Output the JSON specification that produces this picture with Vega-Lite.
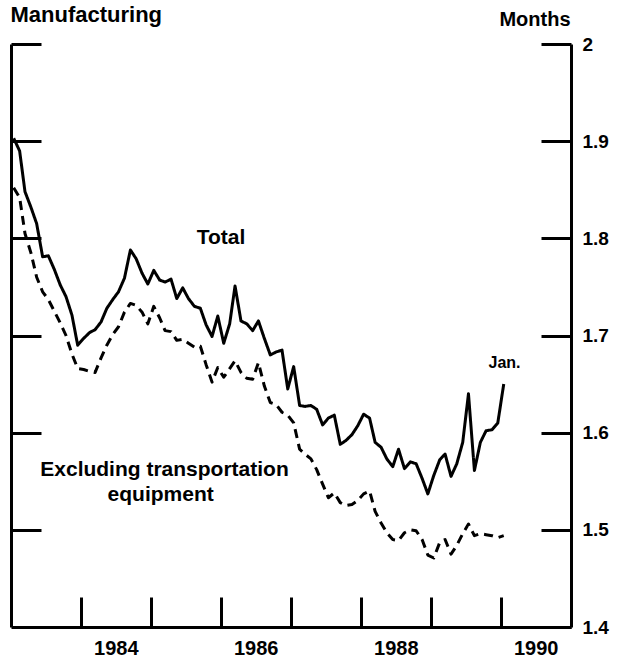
{
  "$schema": "https://vega.github.io/schema/vega-lite/v6.json",
  "width": 560,
  "height": 583,
  "autosize": {"type": "none"},
  "padding": {"left": 11, "top": 44, "right": 54, "bottom": 32},
  "background": "white",
  "config": {
    "view": {"stroke": null},
    "font": "Liberation Sans",
    "axis": {
      "grid": false,
      "domainColor": "#000",
      "domainWidth": 3,
      "tickColor": "#000",
      "tickWidth": 3,
      "labelColor": "#000",
      "labelFont": "Liberation Sans",
      "titleFont": "Liberation Sans",
      "titleColor": "#000"
    }
  },
  "datasets": {
    "lines": [
      {"date":"1983-01-15","series":"Total","value":1.903},
      {"date":"1983-02-15","series":"Total","value":1.89},
      {"date":"1983-03-15","series":"Total","value":1.848},
      {"date":"1983-04-15","series":"Total","value":1.832},
      {"date":"1983-05-15","series":"Total","value":1.815},
      {"date":"1983-06-15","series":"Total","value":1.781},
      {"date":"1983-07-15","series":"Total","value":1.782},
      {"date":"1983-08-15","series":"Total","value":1.768},
      {"date":"1983-09-15","series":"Total","value":1.752},
      {"date":"1983-10-15","series":"Total","value":1.74},
      {"date":"1983-11-15","series":"Total","value":1.721},
      {"date":"1983-12-15","series":"Total","value":1.69},
      {"date":"1984-01-15","series":"Total","value":1.697},
      {"date":"1984-02-15","series":"Total","value":1.703},
      {"date":"1984-03-15","series":"Total","value":1.706},
      {"date":"1984-04-15","series":"Total","value":1.714},
      {"date":"1984-05-15","series":"Total","value":1.728},
      {"date":"1984-06-15","series":"Total","value":1.737},
      {"date":"1984-07-15","series":"Total","value":1.745},
      {"date":"1984-08-15","series":"Total","value":1.759},
      {"date":"1984-09-15","series":"Total","value":1.788},
      {"date":"1984-10-15","series":"Total","value":1.779},
      {"date":"1984-11-15","series":"Total","value":1.764},
      {"date":"1984-12-15","series":"Total","value":1.753},
      {"date":"1985-01-15","series":"Total","value":1.767},
      {"date":"1985-02-15","series":"Total","value":1.757},
      {"date":"1985-03-15","series":"Total","value":1.755},
      {"date":"1985-04-15","series":"Total","value":1.758},
      {"date":"1985-05-15","series":"Total","value":1.738},
      {"date":"1985-06-15","series":"Total","value":1.749},
      {"date":"1985-07-15","series":"Total","value":1.738},
      {"date":"1985-08-15","series":"Total","value":1.73},
      {"date":"1985-09-15","series":"Total","value":1.728},
      {"date":"1985-10-15","series":"Total","value":1.711},
      {"date":"1985-11-15","series":"Total","value":1.699},
      {"date":"1985-12-15","series":"Total","value":1.72},
      {"date":"1986-01-15","series":"Total","value":1.692},
      {"date":"1986-02-15","series":"Total","value":1.712},
      {"date":"1986-03-15","series":"Total","value":1.751},
      {"date":"1986-04-15","series":"Total","value":1.715},
      {"date":"1986-05-15","series":"Total","value":1.712},
      {"date":"1986-06-15","series":"Total","value":1.705},
      {"date":"1986-07-15","series":"Total","value":1.715},
      {"date":"1986-08-15","series":"Total","value":1.697},
      {"date":"1986-09-15","series":"Total","value":1.68},
      {"date":"1986-10-15","series":"Total","value":1.683},
      {"date":"1986-11-15","series":"Total","value":1.685},
      {"date":"1986-12-15","series":"Total","value":1.645},
      {"date":"1987-01-15","series":"Total","value":1.668},
      {"date":"1987-02-15","series":"Total","value":1.628},
      {"date":"1987-03-15","series":"Total","value":1.627},
      {"date":"1987-04-15","series":"Total","value":1.628},
      {"date":"1987-05-15","series":"Total","value":1.624},
      {"date":"1987-06-15","series":"Total","value":1.608},
      {"date":"1987-07-15","series":"Total","value":1.615},
      {"date":"1987-08-15","series":"Total","value":1.618},
      {"date":"1987-09-15","series":"Total","value":1.588},
      {"date":"1987-10-15","series":"Total","value":1.592},
      {"date":"1987-11-15","series":"Total","value":1.598},
      {"date":"1987-12-15","series":"Total","value":1.607},
      {"date":"1988-01-15","series":"Total","value":1.619},
      {"date":"1988-02-15","series":"Total","value":1.615},
      {"date":"1988-03-15","series":"Total","value":1.59},
      {"date":"1988-04-15","series":"Total","value":1.585},
      {"date":"1988-05-15","series":"Total","value":1.573},
      {"date":"1988-06-15","series":"Total","value":1.565},
      {"date":"1988-07-15","series":"Total","value":1.583},
      {"date":"1988-08-15","series":"Total","value":1.563},
      {"date":"1988-09-15","series":"Total","value":1.57},
      {"date":"1988-10-15","series":"Total","value":1.568},
      {"date":"1988-11-15","series":"Total","value":1.553},
      {"date":"1988-12-15","series":"Total","value":1.537},
      {"date":"1989-01-15","series":"Total","value":1.556},
      {"date":"1989-02-15","series":"Total","value":1.572},
      {"date":"1989-03-15","series":"Total","value":1.578},
      {"date":"1989-04-15","series":"Total","value":1.555},
      {"date":"1989-05-15","series":"Total","value":1.568},
      {"date":"1989-06-15","series":"Total","value":1.59},
      {"date":"1989-07-15","series":"Total","value":1.64},
      {"date":"1989-08-15","series":"Total","value":1.561},
      {"date":"1989-09-15","series":"Total","value":1.59},
      {"date":"1989-10-15","series":"Total","value":1.602},
      {"date":"1989-11-15","series":"Total","value":1.603},
      {"date":"1989-12-15","series":"Total","value":1.61},
      {"date":"1990-01-15","series":"Total","value":1.65},
      {"date":"1983-01-15","series":"Excluding transportation equipment","value":1.852},
      {"date":"1983-02-15","series":"Excluding transportation equipment","value":1.842},
      {"date":"1983-03-15","series":"Excluding transportation equipment","value":1.805},
      {"date":"1983-04-15","series":"Excluding transportation equipment","value":1.785},
      {"date":"1983-05-15","series":"Excluding transportation equipment","value":1.76},
      {"date":"1983-06-15","series":"Excluding transportation equipment","value":1.745},
      {"date":"1983-07-15","series":"Excluding transportation equipment","value":1.737},
      {"date":"1983-08-15","series":"Excluding transportation equipment","value":1.725},
      {"date":"1983-09-15","series":"Excluding transportation equipment","value":1.713},
      {"date":"1983-10-15","series":"Excluding transportation equipment","value":1.7},
      {"date":"1983-11-15","series":"Excluding transportation equipment","value":1.681},
      {"date":"1983-12-15","series":"Excluding transportation equipment","value":1.666},
      {"date":"1984-01-15","series":"Excluding transportation equipment","value":1.665},
      {"date":"1984-02-15","series":"Excluding transportation equipment","value":1.663},
      {"date":"1984-03-15","series":"Excluding transportation equipment","value":1.662},
      {"date":"1984-04-15","series":"Excluding transportation equipment","value":1.677},
      {"date":"1984-05-15","series":"Excluding transportation equipment","value":1.69},
      {"date":"1984-06-15","series":"Excluding transportation equipment","value":1.701},
      {"date":"1984-07-15","series":"Excluding transportation equipment","value":1.709},
      {"date":"1984-08-15","series":"Excluding transportation equipment","value":1.724},
      {"date":"1984-09-15","series":"Excluding transportation equipment","value":1.733},
      {"date":"1984-10-15","series":"Excluding transportation equipment","value":1.731},
      {"date":"1984-11-15","series":"Excluding transportation equipment","value":1.724},
      {"date":"1984-12-15","series":"Excluding transportation equipment","value":1.712},
      {"date":"1985-01-15","series":"Excluding transportation equipment","value":1.73},
      {"date":"1985-02-15","series":"Excluding transportation equipment","value":1.718},
      {"date":"1985-03-15","series":"Excluding transportation equipment","value":1.705},
      {"date":"1985-04-15","series":"Excluding transportation equipment","value":1.704},
      {"date":"1985-05-15","series":"Excluding transportation equipment","value":1.695},
      {"date":"1985-06-15","series":"Excluding transportation equipment","value":1.696},
      {"date":"1985-07-15","series":"Excluding transportation equipment","value":1.692},
      {"date":"1985-08-15","series":"Excluding transportation equipment","value":1.688},
      {"date":"1985-09-15","series":"Excluding transportation equipment","value":1.689},
      {"date":"1985-10-15","series":"Excluding transportation equipment","value":1.67},
      {"date":"1985-11-15","series":"Excluding transportation equipment","value":1.652},
      {"date":"1985-12-15","series":"Excluding transportation equipment","value":1.667},
      {"date":"1986-01-15","series":"Excluding transportation equipment","value":1.657},
      {"date":"1986-02-15","series":"Excluding transportation equipment","value":1.666},
      {"date":"1986-03-15","series":"Excluding transportation equipment","value":1.674},
      {"date":"1986-04-15","series":"Excluding transportation equipment","value":1.662},
      {"date":"1986-05-15","series":"Excluding transportation equipment","value":1.656},
      {"date":"1986-06-15","series":"Excluding transportation equipment","value":1.655},
      {"date":"1986-07-15","series":"Excluding transportation equipment","value":1.672},
      {"date":"1986-08-15","series":"Excluding transportation equipment","value":1.648},
      {"date":"1986-09-15","series":"Excluding transportation equipment","value":1.631},
      {"date":"1986-10-15","series":"Excluding transportation equipment","value":1.629},
      {"date":"1986-11-15","series":"Excluding transportation equipment","value":1.621},
      {"date":"1986-12-15","series":"Excluding transportation equipment","value":1.618},
      {"date":"1987-01-15","series":"Excluding transportation equipment","value":1.61},
      {"date":"1987-02-15","series":"Excluding transportation equipment","value":1.583},
      {"date":"1987-03-15","series":"Excluding transportation equipment","value":1.578},
      {"date":"1987-04-15","series":"Excluding transportation equipment","value":1.573},
      {"date":"1987-05-15","series":"Excluding transportation equipment","value":1.562},
      {"date":"1987-06-15","series":"Excluding transportation equipment","value":1.547},
      {"date":"1987-07-15","series":"Excluding transportation equipment","value":1.533},
      {"date":"1987-08-15","series":"Excluding transportation equipment","value":1.538},
      {"date":"1987-09-15","series":"Excluding transportation equipment","value":1.528},
      {"date":"1987-10-15","series":"Excluding transportation equipment","value":1.525},
      {"date":"1987-11-15","series":"Excluding transportation equipment","value":1.526},
      {"date":"1987-12-15","series":"Excluding transportation equipment","value":1.53},
      {"date":"1988-01-15","series":"Excluding transportation equipment","value":1.537},
      {"date":"1988-02-15","series":"Excluding transportation equipment","value":1.54},
      {"date":"1988-03-15","series":"Excluding transportation equipment","value":1.519},
      {"date":"1988-04-15","series":"Excluding transportation equipment","value":1.507},
      {"date":"1988-05-15","series":"Excluding transportation equipment","value":1.497},
      {"date":"1988-06-15","series":"Excluding transportation equipment","value":1.49},
      {"date":"1988-07-15","series":"Excluding transportation equipment","value":1.489},
      {"date":"1988-08-15","series":"Excluding transportation equipment","value":1.497},
      {"date":"1988-09-15","series":"Excluding transportation equipment","value":1.5},
      {"date":"1988-10-15","series":"Excluding transportation equipment","value":1.499},
      {"date":"1988-11-15","series":"Excluding transportation equipment","value":1.49},
      {"date":"1988-12-15","series":"Excluding transportation equipment","value":1.474},
      {"date":"1989-01-15","series":"Excluding transportation equipment","value":1.471},
      {"date":"1989-02-15","series":"Excluding transportation equipment","value":1.487},
      {"date":"1989-03-15","series":"Excluding transportation equipment","value":1.49},
      {"date":"1989-04-15","series":"Excluding transportation equipment","value":1.475},
      {"date":"1989-05-15","series":"Excluding transportation equipment","value":1.484},
      {"date":"1989-06-15","series":"Excluding transportation equipment","value":1.496},
      {"date":"1989-07-15","series":"Excluding transportation equipment","value":1.506},
      {"date":"1989-08-15","series":"Excluding transportation equipment","value":1.494},
      {"date":"1989-09-15","series":"Excluding transportation equipment","value":1.496},
      {"date":"1989-10-15","series":"Excluding transportation equipment","value":1.495},
      {"date":"1989-11-15","series":"Excluding transportation equipment","value":1.494},
      {"date":"1989-12-15","series":"Excluding transportation equipment","value":1.492},
      {"date":"1990-01-15","series":"Excluding transportation equipment","value":1.494}
    ],
    "notes": [
      {"date":"1986-01-01","value":1.8,"text":"Total"},
      {"date":"1985-03-12","value":1.5616,"text":"Excluding transportation"},
      {"date":"1985-02-20","value":1.5358,"text":"equipment"}
    ],
    "endnote": [
      {"date":"1990-01-19","value":1.6717,"text":"Jan."}
    ]
  },
  "layer": [
    {
      "data": {"name": "lines"},
      "mark": {"type": "line", "color": "#000", "strokeWidth": 3, "strokeJoin": "round"},
      "encoding": {
        "x": {
          "field": "date", "type": "temporal",
          "scale": {"type": "utc", "domain": [{"year": 1983, "month": 1, "date": 1, "utc": true}, {"year": 1991, "month": 1, "date": 1, "utc": true}]},
          "axis": {
            "orient": "bottom", "title": null, "labels": false, "tickSize": -30,
            "values": [
              {"year": 1984, "month": 1, "date": 1, "utc": true},
              {"year": 1985, "month": 1, "date": 1, "utc": true},
              {"year": 1986, "month": 1, "date": 1, "utc": true},
              {"year": 1987, "month": 1, "date": 1, "utc": true},
              {"year": 1988, "month": 1, "date": 1, "utc": true},
              {"year": 1989, "month": 1, "date": 1, "utc": true},
              {"year": 1990, "month": 1, "date": 1, "utc": true}
            ]
          }
        },
        "y": {
          "field": "value", "type": "quantitative",
          "scale": {"domain": [1.4, 2], "nice": false, "zero": false},
          "axis": {
            "orient": "left", "labels": false, "tickSize": -30,
            "values": [1.5, 1.6, 1.7, 1.8, 1.9, 2],
            "title": "Manufacturing", "titleAngle": 0, "titleAlign": "left", "titleBaseline": "alphabetic",
            "titleX": -1, "titleY": -23, "titleFontSize": 22, "titleFontWeight": "bold"
          }
        },
        "strokeDash": {
          "field": "series", "type": "nominal",
          "scale": {"domain": ["Total", "Excluding transportation equipment"], "range": [[1, 0], [9, 6]]},
          "legend": null
        }
      }
    },
    {
      "data": {"name": "notes"},
      "mark": {"type": "text", "font": "Liberation Sans", "fontSize": 21, "fontWeight": "bold", "color": "#000", "align": "center", "baseline": "middle"},
      "encoding": {
        "x": {
          "field": "date", "type": "temporal",
          "scale": {"type": "utc", "domain": [{"year": 1983, "month": 1, "date": 1, "utc": true}, {"year": 1991, "month": 1, "date": 1, "utc": true}]},
          "axis": {
            "orient": "bottom", "title": null, "ticks": false, "domain": false,
            "labelExpr": "utcFormat(datum.value, '%Y')", "labelFontSize": 20, "labelFontWeight": "bold",
            "labelPadding": 11, "labelFlush": false, "labelOverlap": false,
            "values": [
              {"year": 1984, "month": 7, "date": 1, "utc": true},
              {"year": 1986, "month": 7, "date": 1, "utc": true},
              {"year": 1988, "month": 7, "date": 1, "utc": true},
              {"year": 1990, "month": 7, "date": 1, "utc": true}
            ]
          }
        },
        "y": {
          "field": "value", "type": "quantitative",
          "scale": {"domain": [1.4, 2], "nice": false, "zero": false},
          "axis": {
            "orient": "right", "tickSize": -30, "labelPadding": 41,
            "values": [1.4, 1.5, 1.6, 1.7, 1.8, 1.9, 2], "format": "~g",
            "labelFontSize": 19, "labelFontWeight": "bold", "labelAlign": "left",
            "title": "Months", "titleAngle": 0, "titleAlign": "right", "titleBaseline": "alphabetic",
            "titleX": -1, "titleY": -19, "titleFontSize": 20, "titleFontWeight": "bold"
          }
        },
        "text": {"field": "text", "type": "nominal"}
      }
    },
    {
      "data": {"name": "endnote"},
      "mark": {"type": "text", "font": "Liberation Sans", "fontSize": 16, "fontWeight": "bold", "color": "#000", "align": "center", "baseline": "middle"},
      "encoding": {
        "x": {"field": "date", "type": "temporal", "axis": null},
        "y": {"field": "value", "type": "quantitative", "axis": null},
        "text": {"field": "text", "type": "nominal"}
      }
    }
  ],
  "resolve": {"axis": {"x": "independent", "y": "independent"}}
}
